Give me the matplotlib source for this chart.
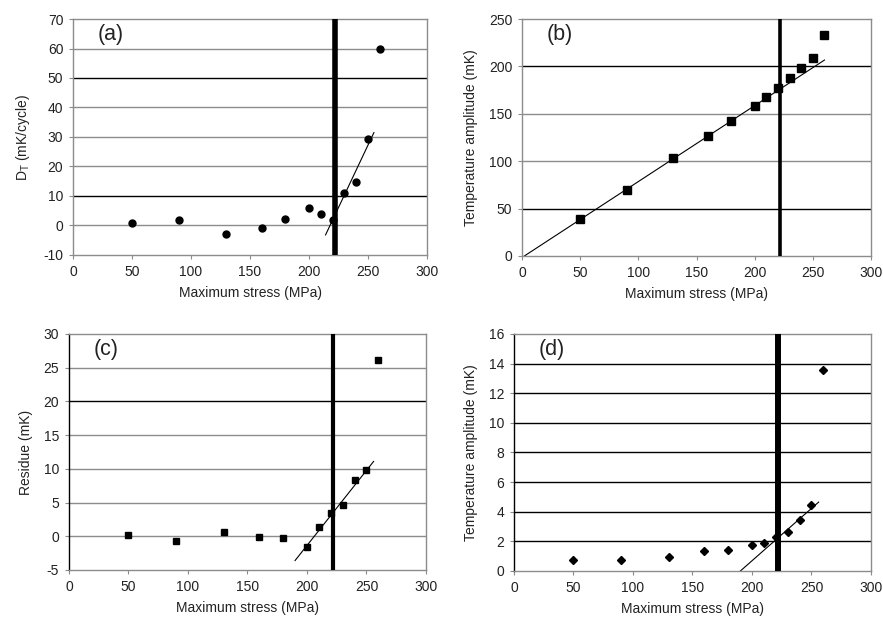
import matplotlib
matplotlib.use('Agg')
import matplotlib.pyplot as plt

plt.rcParams['font.family'] = ['Liberation Sans', 'DejaVu Sans']
plt.rcParams['axes.unicode_minus'] = False

stress = [50, 90, 130, 160, 180, 200, 210, 220, 230, 240, 250, 260]

dT_a = [0.7, 1.8, -3.0, -0.7, 2.3, 6.0, 3.8, 1.8, 11.1, 14.6, 29.3, 59.7]
fit_a_x = [214, 255]
fit_a_y = [-3.2, 31.5]

amp_b = [39.4, 70.1, 103.5, 126.8, 141.9, 157.7, 168.0, 177.5, 187.3, 198.6, 208.5, 233.0]
fit_b_x = [2, 260]
fit_b_y = [0, 206.7]

res_c = [0.2, -0.75, 0.7, -0.1, -0.25, -1.6, 1.4, 3.45, 4.65, 8.35, 9.8, 26.2]
fit_c_x = [190, 256]
fit_c_y = [-3.6, 11.1]

amp_d = [0.72, 0.77, 0.95, 1.38, 1.44, 1.78, 1.92, 2.3, 2.64, 3.41, 4.47, 13.6]
fit_d_x = [186, 256]
fit_d_y = [-0.3, 4.65]

threshold = 222

GRAY = '#8c8c8c'
TXT = '#222222'


def setup(ax, ylim, ystep, ylabel, tag, vlw, dark_y=(), left_black=False):
    ax.set_xlim(0, 300)
    ax.set_ylim(*ylim)
    ax.set_xticks(range(0, 301, 50))
    yt = []
    v = ylim[0]
    while v <= ylim[1] + 1e-9:
        yt.append(v)
        v += ystep
    ax.set_yticks(yt)
    for v in yt[1:-1]:
        col = 'black' if v in dark_y else GRAY
        ax.axhline(v, color=col, lw=1.0, zorder=1)
    for s in ax.spines.values():
        s.set_color(GRAY)
        s.set_linewidth(1.0)
    if left_black:
        ax.spines['left'].set_color('black')
    ax.tick_params(direction='out', length=3, color=GRAY, labelsize=10,
                   labelcolor=TXT, pad=4)
    ax.set_xlabel('Maximum stress (MPa)', fontsize=10, color=TXT, labelpad=5)
    ax.set_ylabel(ylabel, fontsize=10, color=TXT, labelpad=8)
    ax.text(0.07, 0.935, tag, transform=ax.transAxes, fontsize=15.5,
            va='center', ha='left', color=TXT)
    ax.axvline(threshold, color='black', lw=vlw, zorder=3)


fig = plt.figure(figsize=(8.83, 6.23), dpi=100)

ax = fig.add_axes([0.0827, 0.5907, 0.4009, 0.3788])
setup(ax, (-10, 70), 10, 'D$_\\mathregular{T}$ (mK/cycle)', '(a)', 4.0, dark_y=(50, 10))
ax.plot(fit_a_x, fit_a_y, color='black', lw=0.8, zorder=2)
ax.plot(stress, dT_a, 'o', color='black', ms=5, zorder=4)

ax = fig.add_axes([0.5912, 0.5891, 0.3952, 0.3804])
setup(ax, (0, 250), 50, 'Temperature amplitude (mK)', '(b)', 2.6, dark_y=(200, 50))
ax.plot(fit_b_x, fit_b_y, color='black', lw=0.8, zorder=2)
ax.plot(stress, amp_b, 's', color='black', ms=5.5, zorder=4)

ax = fig.add_axes([0.0781, 0.0851, 0.4043, 0.3788])
setup(ax, (-5, 30), 5, 'Residue (mK)', '(c)', 3.0, dark_y=(20,), left_black=True)
ax.plot(fit_c_x, fit_c_y, color='black', lw=0.8, zorder=2)
ax.plot(stress, res_c, 's', color='black', ms=5, zorder=4)

ax = fig.add_axes([0.5821, 0.0835, 0.4043, 0.3804])
setup(ax, (0, 16), 2, 'Temperature amplitude (mK)', '(d)', 4.3,
      dark_y=(2, 4, 6, 8, 10, 12, 14), left_black=True)
ax.plot(fit_d_x, fit_d_y, color='black', lw=0.8, zorder=2)
ax.plot(stress, amp_d, 'D', color='black', ms=4, zorder=4)

fig.savefig('out.png', dpi=100)
